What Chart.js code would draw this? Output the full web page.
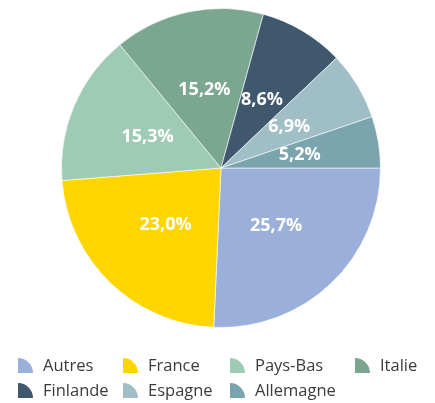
<!DOCTYPE html>
<html>
<head>
<meta charset="utf-8">
<script src="https://cdn.jsdelivr.net/npm/chart.js@4"></script>
<style>
  html, body { margin: 0; padding: 0; background: #fff; }
  #wrap { width: 435px; height: 403px; position: relative; }
</style>
</head>
<body>
<div id="wrap"><canvas id="chart"></canvas></div>
<script>
const labels = ['Autres', 'France', 'Pays-Bas', 'Italie', 'Finlande', 'Espagne', 'Allemagne'];
const shares = [25.7, 23.0, 15.3, 15.2, 8.6, 6.9, 5.2];
const colors = ['#9aafd9', '#fdd600', '#9fcbb6', '#7ba690', '#3f586e', '#a0bec6', '#7aa5ae'];

const FONT = "'Open Sans', 'DejaVu Sans', sans-serif";

// percentage labels at the middle of each slice
const sliceLabels = {
  id: 'sliceLabels',
  afterDatasetsDraw(chart) {
    const { ctx } = chart;
    const meta = chart.getDatasetMeta(0);
    ctx.save();
    ctx.fillStyle = '#fff';
    ctx.font = `bold 18px ${FONT}`;
    ctx.textAlign = 'center';
    ctx.textBaseline = 'middle';
    meta.data.forEach((arc, i) => {
      const p = arc.getCenterPoint();
      ctx.fillText(shares[i].toFixed(1).replace('.', ',') + '%', p.x, p.y);
    });
    ctx.restore();
  }
};

// grid legend, 4 columns, quarter-disc swatches
const gridLegend = {
  id: 'gridLegend',
  afterDraw(chart) {
    const { ctx } = chart;
    const cols = [18, 123, 230, 355];
    const rows = [366, 391];
    ctx.save();
    ctx.font = `16.5px ${FONT}`;
    ctx.textBaseline = 'middle';
    ctx.textAlign = 'left';
    labels.forEach((name, i) => {
      const x = cols[i % 4], y = rows[Math.floor(i / 4)];
      const r = 15;
      ctx.fillStyle = colors[i];
      ctx.beginPath();
      ctx.moveTo(x, y + 7);
      ctx.lineTo(x, y + 7 - r);
      ctx.arc(x, y + 7, r, -Math.PI / 2, 0);
      ctx.closePath();
      ctx.fill();
      ctx.fillStyle = '#3b3b3b';
      ctx.fillText(name, x + 25, y);
    });
    ctx.restore();
  }
};

new Chart(document.getElementById('chart'), {
  type: 'pie',
  data: {
    labels,
    datasets: [{ data: shares, backgroundColor: colors, borderColor: 'rgba(255,255,255,0.6)', borderWidth: 1 }]
  },
  options: {
    responsive: true, maintainAspectRatio: false, animation: false,
    rotation: 90,
    layout: { padding: { top: 8, bottom: 75, left: 7, right: 0 } },
    plugins: { legend: { display: false }, tooltip: { enabled: false } }
  },
  plugins: [sliceLabels, gridLegend]
});
</script>
</body>
</html>
